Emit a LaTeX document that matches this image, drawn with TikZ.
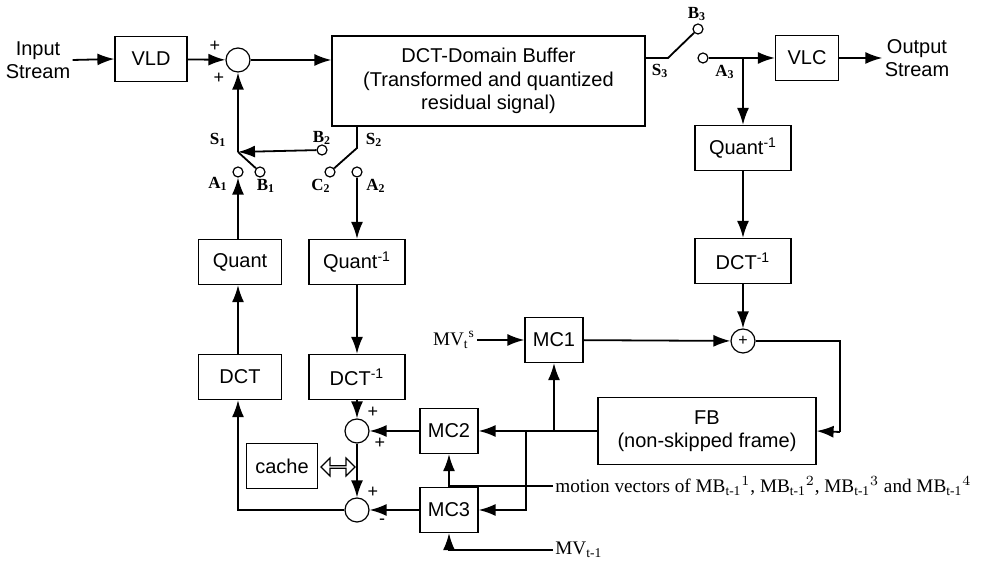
\documentclass[tikz,border=0pt]{standalone}
\usepackage{amsmath}
\usepackage{fontspec}
\setmainfont{Liberation Sans}
\newfontfamily\lserif{Liberation Serif}
\usetikzlibrary{arrows.meta, positioning, shapes.arrows}
\newcommand{\tmo}{\text{\lserif t-1}}

\begin{document}
\begin{tikzpicture}[x=0.5pt, y=-0.5pt,
  font=\fontsize{10}{11.7}\selectfont,
  blk/.style={draw, line width=0.6pt, minimum height=22.5pt, inner sep=1pt},
  sumc/.style={draw, circle, line width=0.6pt, minimum size=12pt, inner sep=0pt},
  term/.style={draw, circle, line width=0.6pt, minimum size=5pt, inner sep=0pt},
  flow/.style={line width=0.9pt, -{Latex[length=8.5pt, width=6pt]}},
  wire/.style={line width=0.9pt},
  swlab/.style={font=\lserif\bfseries\fontsize{8.5}{9}\selectfont, inner sep=0pt},
  sgn/.style={font=\fontsize{9}{9}\selectfont, inner sep=0pt},
  mvtxt/.style={font=\lserif\fontsize{9.6}{11}\selectfont, inner sep=1pt}]
  \useasboundingbox (0,0) rectangle (982,565);

  % top row
  \node[align=center, inner sep=1pt] (instream) at (38,60) {Input\\Stream};
  \node[blk, minimum width=36pt] (vld) at (151,59) {VLD};
  \node[sumc] (sum1) at (238,60) {};
  \node[blk, minimum width=156.5pt, minimum height=45pt, align=center] (buf) at (488.5,81)
    {DCT-Domain Buffer\\(Transformed and quantized\\residual signal)};
  \coordinate (s3) at (668,58);
  \node[term] (b3) at (698,29) {};
  \node[term] (a3) at (703,58) {};
  \node[blk, minimum width=31.5pt] (vlc) at (807,58) {VLC};
  \node[align=center, inner sep=1pt] (outstream) at (917,58) {Output\\Stream};

  % right column
  \node[blk, minimum width=48pt] (qi3) at (743,148) {Quant\textsuperscript{-1}};
  \node[blk, minimum width=48pt] (dci3) at (743,261) {DCT\textsuperscript{-1}};
  \node[sumc, font=\fontsize{8}{8}\selectfont] (sum4) at (743,341) {+};
  \node[blk, minimum width=29pt] (mc1) at (554,340) {MC1};
  \node[mvtxt] (mvs) at (454,340) {MV$_{\text{\lserif t}}{}^{\text{\lserif s}}$};
  \node[blk, minimum width=109pt, minimum height=33.5pt, align=center] (fb) at (707,431)
    {FB\\(non-skipped frame)};
  \coordinate (fbr) at (840,432);

  % switches
  \coordinate (s1) at (238,152);
  \node[term] (a1) at (238,172) {};
  \node[term] (b1) at (260,172) {};
  \node[term] (b2) at (322,150) {};
  \coordinate (s2) at (357,148);
  \node[term] (c2) at (330,172) {};
  \node[term] (a2) at (357,172) {};

  % left columns
  \node[blk, minimum width=41.5pt] (qnt) at (240,262) {Quant};
  \node[blk, minimum width=41.5pt] (dct) at (240,377) {DCT};
  \node[blk, minimum width=48pt] (qi2) at (357,262) {Quant\textsuperscript{-1}};
  \node[blk, minimum width=48pt] (dci2) at (357,377) {DCT\textsuperscript{-1}};
  \node[sumc] (sum2) at (357,431) {};
  \node[sumc] (sum3) at (357,510) {};
  \node[blk, minimum width=35.5pt] (cache) at (282,466) {cache};
  \node[double arrow, draw, line width=0.6pt, minimum height=17pt, minimum width=9pt,
    double arrow head extend=2pt, inner sep=0pt] (link) at (338,467) {};
  \node[blk, minimum width=29pt] (mc2) at (449,431) {MC2};
  \node[blk, minimum width=29pt] (mc3) at (449,510) {MC3};
  \coordinate (j2) at (526,431);
  \node[mvtxt, anchor=west] (mvtext) at (553,486)
    {motion vectors of MB$_{\tmo}{}^{1}$, MB$_{\tmo}{}^{2}$, MB$_{\tmo}{}^{3}$ and MB$_{\tmo}{}^{4}$};
  \node[mvtxt, anchor=west] (mvp) at (553,550) {MV$_{\tmo}$};

  % labels
  \node[sgn] (p1) at (215,46) {+};
  \node[sgn] (p2) at (219,78) {+};
  \node[sgn] (p3) at (373,412) {+};
  \node[sgn] (p4) at (380,443) {+};
  \node[sgn] (p5) at (373,492) {+};
  \node[sgn] (m5) at (382,522) {-};
  \node[swlab] (labS1) at (218,140) {S\textsubscript{1}};
  \node[swlab] (labB2) at (322,138) {B\textsubscript{2}};
  \node[swlab] (labS2) at (374,140) {S\textsubscript{2}};
  \node[swlab] (labA1) at (218,184) {A\textsubscript{1}};
  \node[swlab] (labB1) at (266,186) {B\textsubscript{1}};
  \node[swlab] (labC2) at (321,186) {C\textsubscript{2}};
  \node[swlab] (labA2) at (376,186) {A\textsubscript{2}};
  \node[swlab] (labB3) at (697,14) {B\textsubscript{3}};
  \node[swlab] (labS3) at (660,71) {S\textsubscript{3}};
  \node[swlab] (labA3) at (725,72) {A\textsubscript{3}};

  % connectors
  \draw[flow] (instream.east) -- (vld.west);
  \draw[flow] (vld) -- (sum1);
  \draw[flow] (sum1) -- (sum1 -| buf.west);
  \draw[wire] (s3 -| buf.east) -- (s3) -- (b3);
  \draw[flow] (a3) -- (vlc);
  \draw[flow] (vlc.east) -- (outstream.west);
  \draw[flow] (qi3.north |- a3) -- (qi3);
  \draw[flow] (qi3) -- (dci3);
  \draw[flow] (dci3) -- (sum4);
  \draw[flow] (mvs) -- (mc1);
  \draw[flow] (mc1) -- (sum4);
  \draw[wire] (sum4) -| (fbr);
  \draw[flow] (fbr) -- (fb.east);
  \draw[flow] (fb.west) -- (mc2.east);
  \draw[flow] (mc1.south |- fb.west) -- (mc1.south);
  \draw[flow] (j2) |- (mc3.east);
  \draw[flow] (mvtext.west) -| (mc2.south);
  \draw[flow] (mvp.west) -| (mc3.south);

  \draw[flow] (s1) -- (sum1);
  \draw[wire] (s1) -- (b1);
  \draw[flow] (b2) -- (s1);
  \draw[wire] (buf.south -| s2) -- (s2) -- (c2);
  \draw[flow] (a2) -- (qi2);
  \draw[flow] (qnt.north -| a1) -- (a1);
  \draw[flow] (dct.north -| a1) -- (qnt.south -| a1);
  \draw[flow] (qi2) -- (dci2);
  \draw[flow] (dci2) -- (sum2);
  \draw[flow] (sum2) -- (sum3);
  \draw[flow] (mc2) -- (sum2);
  \draw[flow] (mc3) -- (sum3);
  \draw[flow] (sum3) -| (dct.south -| a1);
\end{tikzpicture}
\end{document}
